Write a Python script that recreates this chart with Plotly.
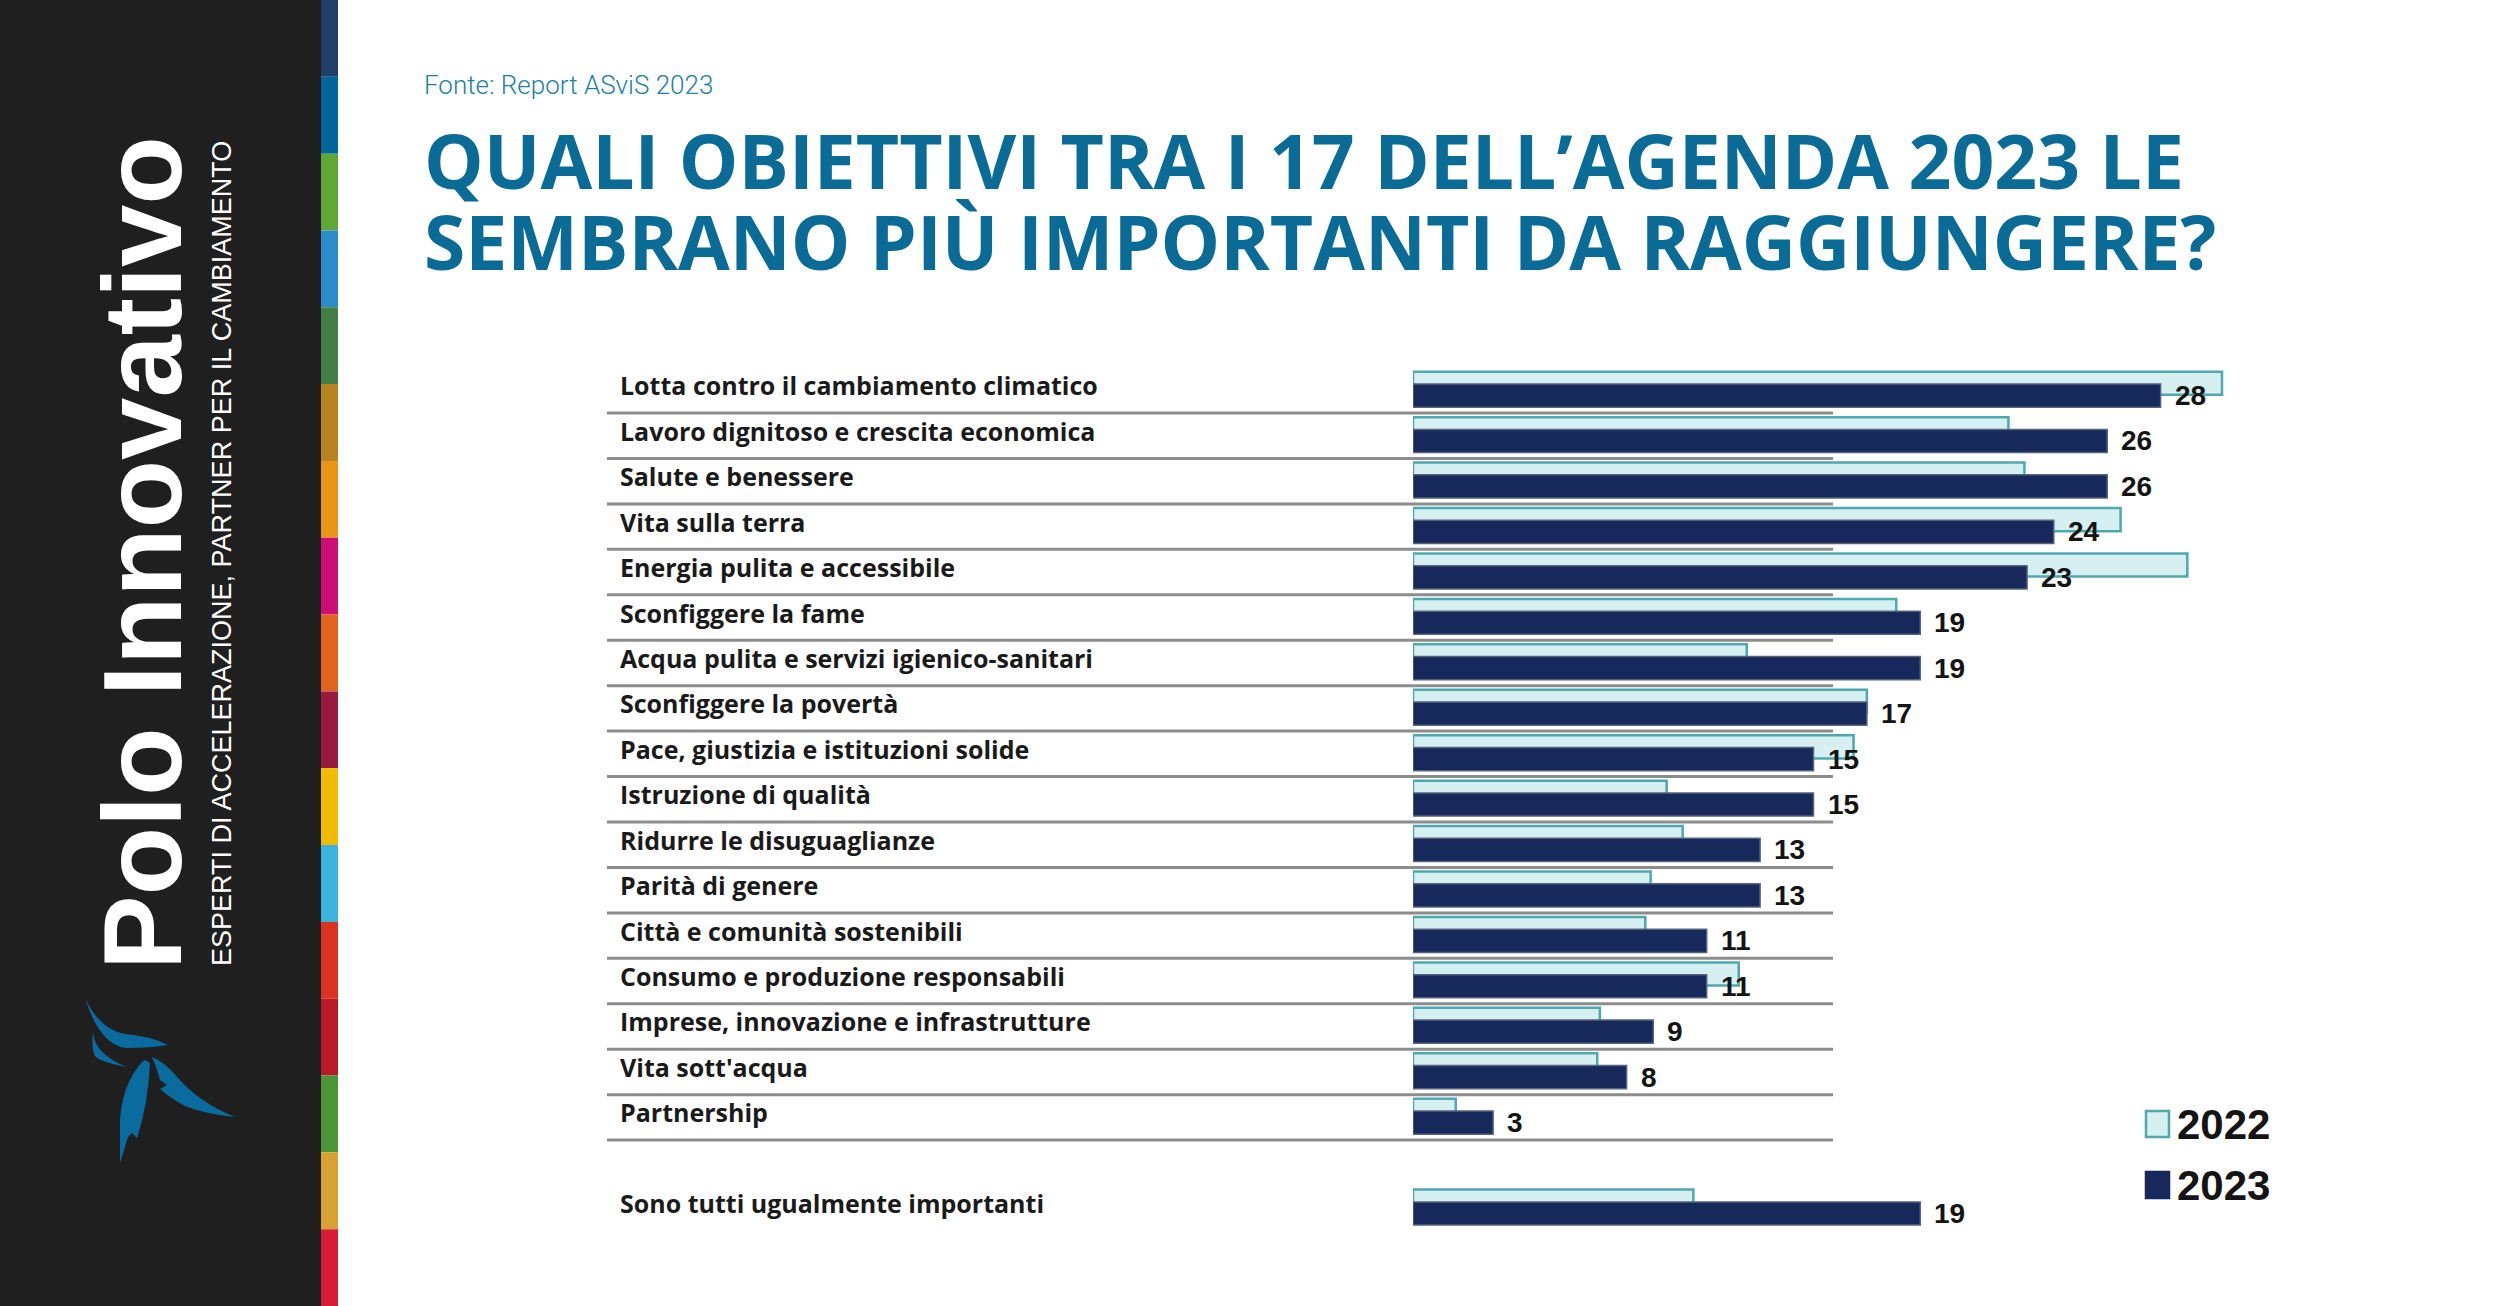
import plotly.graph_objects as go

W, H = 2500, 1306

# ---------------- data ----------------
categories = [
    "Lotta contro il cambiamento climatico",
    "Lavoro dignitoso e crescita economica",
    "Salute e benessere",
    "Vita sulla terra",
    "Energia pulita e accessibile",
    "Sconfiggere la fame",
    "Acqua pulita e servizi igienico-sanitari",
    "Sconfiggere la povertà",
    "Pace, giustizia e istituzioni solide",
    "Istruzione di qualità",
    "Ridurre le disuguaglianze",
    "Parità di genere",
    "Città e comunità sostenibili",
    "Consumo e produzione responsabili",
    "Imprese, innovazione e infrastrutture",
    "Vita sott'acqua",
    "Partnership",
    "Sono tutti ugualmente importanti",
]
values_2022 = [30.3, 22.3, 22.9, 26.5, 29.0, 18.1, 12.5, 17.0, 16.5, 9.5, 10.1, 8.9, 8.7, 12.2, 7.0, 6.9, 1.6, 10.5]
values_2023 = [28, 26, 26, 24, 23, 19, 19, 17, 15, 15, 13, 13, 11, 11, 9, 8, 3, 19]
series_names = ["2022", "2023"]

title_lines = ["QUALI OBIETTIVI TRA I 17 DELL’AGENDA 2023 LE",
               "SEMBRANO PIÙ IMPORTANTI DA RAGGIUNGERE?"]
source_text = "Fonte: Report ASviS 2023"
brand_name = "Polo Innovativo"
brand_tagline = "ESPERTI DI ACCELERAZIONE, PARTNER PER IL CAMBIAMENTO"

# ---------------- styling ----------------
C_LIGHT = "#d6eff1"
C_LIGHT_LINE = "#4ea8b0"
C_DARK = "#16295a"
C_DARK_LINE = "#56637f"
C_TITLE = "#0a6b97"
SDG = ["#1e3f66", "#00669a", "#5fa838", "#2a8cca", "#437f43", "#b8841f", "#ea9516",
       "#cf0d78", "#e2621f", "#9a1a3f", "#f0bd00", "#3db4e0", "#dc3320", "#b81a26",
       "#4a9535", "#d7a232", "#d81c35"]

def px(x):
    return x / W

def py(y):
    return 1 - y / H

# category slots: one blank slot before the last ("Sono tutti ...") row
GAP_BEFORE = len(categories) - 1
pos = [i if i < GAP_BEFORE else i + 1 for i in range(len(categories))]
n_slots = pos[-1] + 1

LIGHT_OFF, DARK_OFF, BW = -0.41, -0.14, 0.51

fig = go.Figure()
fig.add_trace(go.Bar(
    x=values_2022, y=pos, orientation="h", name=series_names[0],
    offset=LIGHT_OFF, width=BW,
    marker=dict(color=C_LIGHT, line=dict(color=C_LIGHT_LINE, width=2.5)),
    showlegend=False, hoverinfo="x+name",
))
fig.add_trace(go.Bar(
    x=values_2023, y=pos, orientation="h", name=series_names[1],
    offset=DARK_OFF, width=BW,
    marker=dict(color=C_DARK, line=dict(color=C_DARK_LINE, width=1.5)),
    showlegend=False, hoverinfo="x+name",
))

shapes = []
annotations = []

# left dark panel and SDG strip
shapes.append(dict(type="rect", xref="paper", yref="paper", x0=0, x1=px(321), y0=0, y1=1,
                   fillcolor="#1f1f1f", line=dict(width=0), layer="below"))
seg = H / len(SDG)
for i, c in enumerate(SDG):
    shapes.append(dict(type="rect", xref="paper", yref="paper", x0=px(321), x1=px(338),
                       y0=py((i + 1) * seg), y1=py(i * seg),
                       fillcolor=c, line=dict(width=0), layer="below"))

# bird logo (decorative)
def path_px(cmds):
    out = []
    for c in cmds:
        if isinstance(c, str):
            out.append(c)
        else:
            out.append(f"{px(c[0]):.5f},{py(c[1]):.5f}")
    return " ".join(out)

BLUE = "#0a6c9e"
bird_paths = [
    # upper swoosh
    ["M", (85, 998), "Q", (100, 1030), (125, 1034), "Q", (150, 1036), (168, 1045),
     "Q", (150, 1048), (127, 1048), "Q", (100, 1046), (85, 998), "Z"],
    # small swoosh
    ["M", (93, 1032), "Q", (95, 1055), (127, 1067), "Q", (100, 1062), (95, 1056), "Q", (91, 1048), (93, 1032), "Z"],
    # left feather (body)
    ["M", (142, 1062), "Q", (122, 1085), (120, 1120), "L", (120, 1163), "L", (128, 1137),
     "L", (132, 1133), "L", (137, 1138), "Q", (148, 1105), (150, 1063), "L", (145, 1060), "Z"],
    # right wing
    ["M", (152, 1057), "Q", (165, 1062), (178, 1078), "Q", (200, 1103), (235, 1117),
     "Q", (205, 1114), (185, 1106), "Q", (170, 1098), (160, 1089), "L", (167, 1085),
     "L", (160, 1080), "Q", (157, 1068), (152, 1057), "Z"],
]
for p in bird_paths:
    shapes.append(dict(type="path", xref="paper", yref="paper", path=path_px(p),
                       fillcolor=BLUE, line=dict(width=0), layer="above"))

# row separators
for i in range(GAP_BEFORE):
    yv = pos[i] + 0.5
    shapes.append(dict(type="line", xref="paper", yref="y", x0=px(607), x1=px(1833),
                       y0=yv, y1=yv, line=dict(color="#8c8c8c", width=3), layer="below"))

# legend (manual)
leg = [(series_names[0], C_LIGHT, C_LIGHT_LINE, 1124), (series_names[1], C_DARK, C_DARK, 1185)]
for name, fc, lc, yc in leg:
    shapes.append(dict(type="rect", xref="paper", yref="paper", x0=px(2146), x1=px(2169),
                       y0=py(yc + 13), y1=py(yc - 13), fillcolor=fc,
                       line=dict(color=lc, width=2.5)))
    annotations.append(dict(text=f"<b>{name}</b>", xref="paper", yref="paper", x=px(2175), y=py(yc),
                            xanchor="left", yanchor="middle", showarrow=False,
                            font=dict(family="Liberation Sans, Arial", size=42, color="#141414")))

# category labels
for lab, p in zip(categories, pos):
    annotations.append(dict(text=lab, xref="paper", yref="y", x=px(618), y=p,
                            xanchor="left", yanchor="middle", yshift=5, showarrow=False,
                            font=dict(family="Open Sans", size=25, color="#1a1a1a", weight=700)))

# value labels (2023)
for v, p in zip(values_2023, pos):
    annotations.append(dict(text=f"<b>{v}</b>", xref="x", yref="y", x=v, y=p + DARK_OFF + BW / 2,
                            xanchor="left", yanchor="middle", xshift=12, showarrow=False,
                            font=dict(family="Liberation Sans, Arial", size=28, color="#141414")))

# title and source
annotations.append(dict(text=source_text, xref="paper", yref="paper", x=px(422), y=py(85),
                        xanchor="left", yanchor="middle", showarrow=False,
                        font=dict(family="Roboto", size=26, color="#1d7fa3", weight=300)))
for t, yc in zip(title_lines, [160, 241]):
    annotations.append(dict(text=t, xref="paper", yref="paper", x=px(422), y=py(yc),
                            xanchor="left", yanchor="middle", showarrow=False,
                            font=dict(family="Open Sans", size=75, color=C_TITLE, weight=700)))

# brand texts (rotated)
annotations.append(dict(text=f"<b>{brand_name}</b>", xref="paper", yref="paper", x=px(142), y=py(553),
                        xanchor="center", yanchor="middle", textangle=-90, showarrow=False,
                        font=dict(family="Liberation Sans, Arial", size=112, color="#ffffff")))
annotations.append(dict(text=brand_tagline, xref="paper", yref="paper", x=px(222), y=py(554),
                        xanchor="center", yanchor="middle", textangle=-90, showarrow=False,
                        font=dict(family="Liberation Sans, Arial", size=27, color="#ffffff")))

fig.update_layout(
    width=W, height=H,
    margin=dict(l=0, r=0, t=0, b=0),
    paper_bgcolor="#ffffff", plot_bgcolor="rgba(0,0,0,0)",
    barmode="overlay",
    showlegend=False,
    xaxis=dict(domain=[px(1413), px(2481)], range=[0, 40], visible=False, fixedrange=True),
    yaxis=dict(domain=[py(367.6 + (n_slots) * 45.44), py(367.6)],
               range=[n_slots - 0.5, -0.5], visible=False, fixedrange=True),
    shapes=shapes,
    annotations=annotations,
)

fig.write_html("out.html", config={"displayModeBar": False},
               post_script="document.body.style.margin='0';document.body.style.overflow='hidden';")
